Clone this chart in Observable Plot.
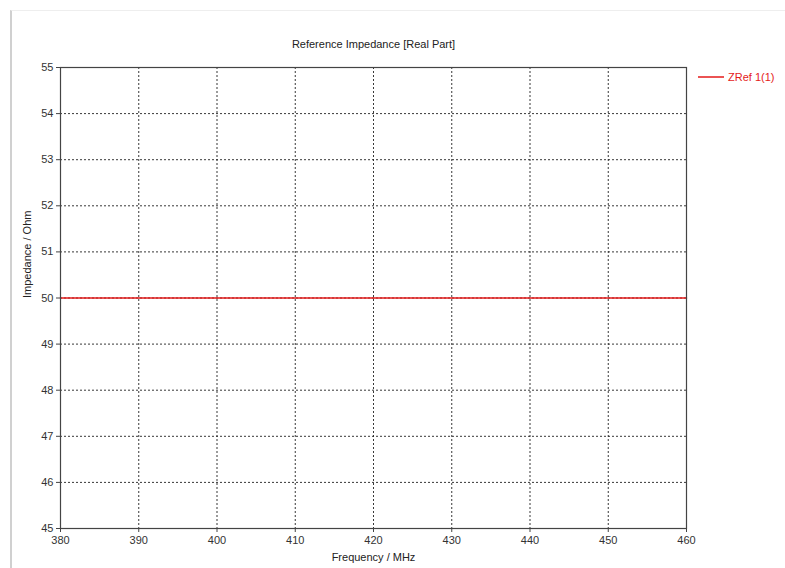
<!DOCTYPE html>
<html>
<head>
<meta charset="utf-8">
<script src="https://cdn.jsdelivr.net/npm/d3@7"></script>
<script src="https://cdn.jsdelivr.net/npm/@observablehq/plot@0.6"></script>
<style>
  html, body { margin: 0; padding: 0; background: #fff; }
  #wrap { position: relative; width: 785px; height: 568px; overflow: hidden; }
  #border { position: absolute; left: 10px; top: 10px; right: 0; bottom: 0;
            border-left: 2px solid #d0d0d0; border-top: 1px solid #eeeeee; }
  #chart { position: absolute; left: 0; top: 0; }
</style>
</head>
<body>
<div id="wrap"><div id="border"></div><div id="chart"></div></div>
<script>
const title = "Reference Impedance [Real Part]";
const xLabel = "Frequency / MHz";
const yLabel = "Impedance / Ohm";
const seriesName = "ZRef 1(1)";
const frequency = [380, 460];
const zref = [50, 50];
const xTicks = [380, 390, 400, 410, 420, 430, 440, 450, 460];
const yTicks = [45, 46, 47, 48, 49, 50, 51, 52, 53, 54, 55];

const data = frequency.map((f, i) => ({f, z: zref[i]}));
const red = "#e41a1a";
const font = "'Liberation Sans', Arial, sans-serif";

const chart = Plot.plot({
  width: 785,
  height: 568,
  marginLeft: 60,
  marginRight: 99,
  marginTop: 67,
  marginBottom: 40,
  style: {fontFamily: font, fontSize: "11px", color: "#333", background: "transparent"},
  x: {domain: [380, 460], ticks: xTicks, label: null},
  y: {domain: [45, 55], ticks: yTicks, label: null},
  marks: [
    Plot.gridX(xTicks.slice(1, -1), {stroke: "#222", strokeOpacity: 0.9, strokeDasharray: "2,2"}),
    Plot.gridY(yTicks.slice(1, -1), {stroke: "#222", strokeOpacity: 0.9, strokeDasharray: "2,2"}),
    Plot.axisX({ticks: xTicks, tickSize: 4, tickPadding: 4, stroke: "#444", fill: "#333", label: null}),
    Plot.axisY({ticks: yTicks, tickSize: 4, tickPadding: 3, stroke: "#444", fill: "#333", label: null}),
    Plot.line(data, {x: "f", y: "z", stroke: red, strokeWidth: 1.5}),
    Plot.frame({stroke: "#444", strokeWidth: 1.2}),
    Plot.text([title], {frameAnchor: "top", dy: -27, fill: "#222", fontSize: 11}),
    Plot.text([xLabel], {frameAnchor: "bottom", dy: 32, fill: "#222", fontSize: 11}),
    Plot.text([yLabel], {frameAnchor: "left", dx: -33, rotate: -90, fill: "#222", fontSize: 11})
  ]
});
document.getElementById("chart").appendChild(chart);

// legend (placed to the right of the frame)
const svg = d3.select(chart);
const lg = svg.append("g").attr("transform", "translate(698,77)");
lg.append("line").attr("x1", 0).attr("x2", 26).attr("y1", 0).attr("y2", 0)
  .attr("stroke", red).attr("stroke-width", 1.5);
lg.append("text").attr("x", 30).attr("y", 0).attr("dy", "0.35em")
  .attr("text-anchor", "start")
  .attr("fill", red).style("font-family", font).style("font-size", "11px").text(seriesName);
</script>
</body>
</html>
